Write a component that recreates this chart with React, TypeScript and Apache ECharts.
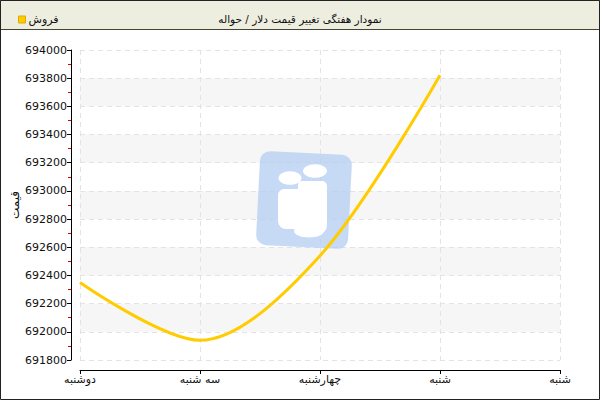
import React, { useEffect, useRef } from "react";
import * as echarts from "echarts";

const titleText = "نمودار هفتگی تغییر قیمت دلار / حواله";
const seriesName = "فروش";
const yAxisName = "قیمت";
const days = ["دوشنبه", "سه شنبه", "چهارشنبه", "شنبه", "شنبه"];
const sales: (number | null)[] = [692350, 691940, 692540, 693820, null];
const yMin = 691800;
const yMax = 694000;
const yStep = 200;

const FONT = "DejaVu Sans";

export default function App() {
  const ref = useRef<HTMLDivElement>(null);
  useEffect(() => {
    if (!ref.current) return;
    const chart = echarts.init(ref.current, undefined, { renderer: "svg" });
    chart.setOption({
      animation: false,
      backgroundColor: "#ffffff",
      textStyle: { fontFamily: FONT },
      title: {
        text: titleText,
        left: "center",
        top: 8,
        textStyle: { fontSize: 10.5, fontWeight: "normal", color: "#111", fontFamily: FONT },
      },
      legend: {
        left: 13,
        top: 9,
        itemWidth: 7,
        itemHeight: 7,
        icon: "rect",
        itemGap: 4,
        textStyle: { fontSize: 11, color: "#111", fontFamily: FONT, padding: [0, 0, 0, -2] },
        data: [{ name: seriesName, itemStyle: { color: "#FFCC00", borderColor: "#E0A800", borderWidth: 1 } }],
      },
      grid: { left: 80, right: 40, top: 50, bottom: 40, containLabel: false, outerBoundsMode: "none" },
      xAxis: {
        type: "category",
        data: days,
        boundaryGap: false,
        offset: 10,
        axisLine: { show: true, lineStyle: { color: "#000", width: 1 } },
        axisTick: { show: true, length: 4, lineStyle: { color: "#000" } },
        axisLabel: { fontSize: 11, color: "#111", fontFamily: FONT, margin: 4, interval: 0 },
        splitLine: { show: true, lineStyle: { color: "#e3e3e3", type: [5, 4] } },
      },
      yAxis: {
        type: "value",
        min: yMin,
        max: yMax,
        interval: yStep,
        offset: 9,
        name: yAxisName,
        nameLocation: "middle",
        nameGap: 50,
        nameMoveOverlap: false,
        nameRotate: 90,
        nameTextStyle: { fontSize: 12, color: "#111", fontFamily: FONT },
        axisLine: { show: true, lineStyle: { color: "#000", width: 1 } },
        axisTick: { show: true, length: 4, lineStyle: { color: "#000" } },
        minorTick: { show: true, splitNumber: 2, length: 3, lineStyle: { color: "#e00000" } },
        axisLabel: { fontSize: 11, color: "#111", fontFamily: FONT, margin: 4, formatter: (v: number) => String(v) },
        splitLine: { show: true, lineStyle: { color: "#e3e3e3", type: [5, 4] } },
        splitArea: { show: true, areaStyle: { color: ["rgba(255,255,255,0)", "#f6f6f6"] } },
      },
      graphic: [
        {
          type: "rect",
          z: -10,
          silent: true,
          shape: { x: 0.5, y: 0.5, width: 599, height: 29 },
          style: { fill: "#EEEEE0", stroke: "#444433", lineWidth: 1 },
        },
        {
          type: "rect",
          z: 100,
          silent: true,
          shape: { x: 0.5, y: 0.5, width: 599, height: 399 },
          style: { fill: "none", stroke: "#222", lineWidth: 1 },
        },
        {
          type: "rect",
          z: 3,
          silent: true,
          x: 304,
          y: 200,
          rotation: -0.05,
          shape: { x: -46, y: -47, width: 92, height: 94, r: 10 },
          style: { fill: "#b3cef3", opacity: 0.75 },
        },
        {
          type: "ellipse",
          z: 4,
          silent: true,
          shape: { cx: 290, cy: 178, rx: 11.5, ry: 6.8 },
          style: { fill: "#ffffff" },
        },
        {
          type: "ellipse",
          z: 4,
          silent: true,
          shape: { cx: 315, cy: 171, rx: 12, ry: 6.8 },
          style: { fill: "#ffffff" },
        },
        {
          type: "rect",
          z: 4,
          silent: true,
          shape: { x: 298, y: 181, width: 29, height: 54, r: [4, 5, 10, 10] },
          style: { fill: "#ffffff" },
        },
        {
          type: "rect",
          z: 4,
          silent: true,
          shape: { x: 278, y: 189, width: 24, height: 40, r: [6, 0, 0, 8] },
          style: { fill: "#ffffff" },
        },
        {
          type: "ellipse",
          z: 4,
          silent: true,
          shape: { cx: 309, cy: 231, rx: 15, ry: 6.5 },
          style: { fill: "#ffffff" },
        },
      ],
      series: [
        {
          name: seriesName,
          type: "line",
          z: 10,
          data: sales,
          smooth: 0.32,
          showSymbol: false,
          symbol: "none",
          connectNulls: false,
          lineStyle: { color: "#FFCC00", width: 3 },
          itemStyle: { color: "#FFCC00" },
        },
      ],
    });
    return () => chart.dispose();
  }, []);
  return (
    <div
      ref={ref}
      style={{ position: "absolute", left: 0, top: 0, width: 600, height: 400 }}
    />
  );
}
